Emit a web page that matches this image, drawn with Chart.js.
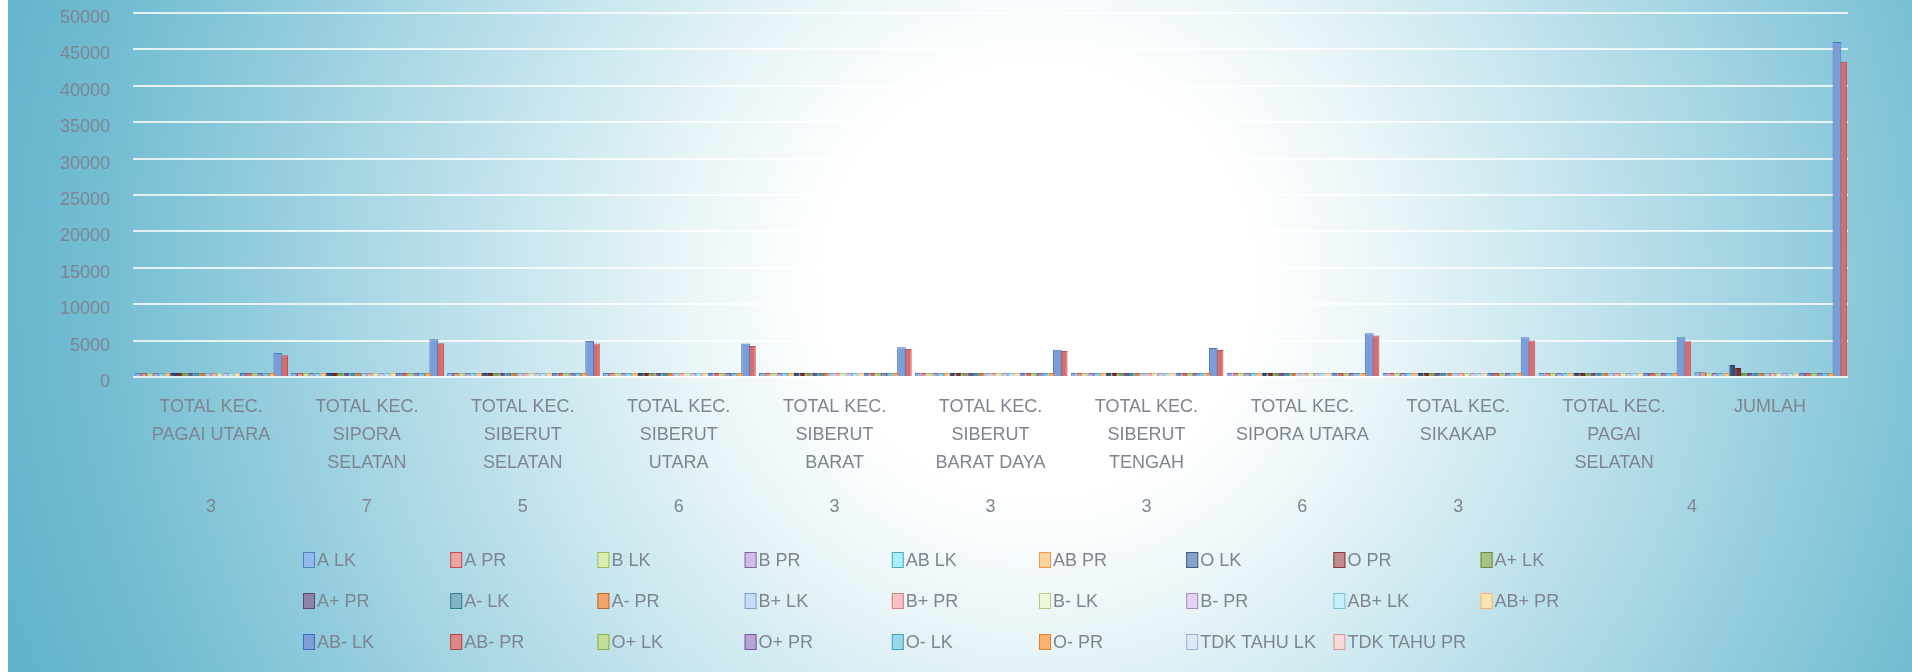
<!DOCTYPE html>
<html>
<head>
<meta charset="utf-8">
<script src="https://cdn.jsdelivr.net/npm/chart.js@4.4.1/dist/chart.umd.min.js"></script>
<style>
  html, body { margin: 0; padding: 0; background: #ffffff; overflow: hidden; }
  #wrap { position: absolute; left: 0; top: 0; width: 1912px; height: 672px; }
  #bg {
    position: absolute; left: 8px; top: 0; width: 1904px; height: 672px;
    background: radial-gradient(circle 1080px at 1030px 280px,
      #ffffff 0%, #ffffff 20%, #e9f5f8 33%, #c4e4ed 50%, #98cfdf 70%, #74bdd2 87%, #62b3cb 100%);
  }
  canvas { position: absolute; left: 0; top: 0; }
</style>
</head>
<body>
<div id="wrap">
  <div id="bg"></div>
  <canvas id="c" width="1912" height="672"></canvas>
</div>
<script>
// ---------------- DATA ----------------
const categories = [
  ['TOTAL KEC.', 'PAGAI UTARA'],
  ['TOTAL KEC.', 'SIPORA', 'SELATAN'],
  ['TOTAL KEC.', 'SIBERUT', 'SELATAN'],
  ['TOTAL KEC.', 'SIBERUT', 'UTARA'],
  ['TOTAL KEC.', 'SIBERUT', 'BARAT'],
  ['TOTAL KEC.', 'SIBERUT', 'BARAT DAYA'],
  ['TOTAL KEC.', 'SIBERUT', 'TENGAH'],
  ['TOTAL KEC.', 'SIPORA UTARA'],
  ['TOTAL KEC.', 'SIKAKAP'],
  ['TOTAL KEC.', 'PAGAI', 'SELATAN'],
  ['JUMLAH']
];
const outerLabels = ['3', '7', '5', '6', '3', '3', '3', '6', '3', '4'];
const outerSpans  = [1, 1, 1, 1, 1, 1, 1, 1, 1, 2];

const seriesNames = [
  'A LK', 'A PR', 'B LK', 'B PR', 'AB LK', 'AB PR', 'O LK', 'O PR', 'A+ LK',
  'A+ PR', 'A- LK', 'A- PR', 'B+ LK', 'B+ PR', 'B- LK', 'B- PR', 'AB+ LK', 'AB+ PR',
  'AB- LK', 'AB- PR', 'O+ LK', 'O+ PR', 'O- LK', 'O- PR', 'TDK TAHU LK', 'TDK TAHU PR'
];

const aLK      = [55, 85, 120, 60, 45, 40, 50, 110, 85, 60, 710];
const aPR      = [50, 80, 105, 55, 40, 35, 45, 100, 75, 55, 640];
const bLK      = [45, 70, 95, 50, 35, 30, 40, 90, 70, 45, 570];
const bPR      = [40, 65, 90, 45, 30, 30, 35, 85, 65, 40, 525];
const abLK     = [30, 50, 70, 35, 25, 25, 30, 75, 60, 35, 435];
const abPR     = [30, 45, 65, 35, 25, 20, 25, 70, 55, 35, 405];
const oLK      = [75, 250, 540, 70, 50, 55, 50, 290, 175, 85, 1640];
const oPR      = [60, 190, 410, 50, 40, 45, 40, 215, 125, 60, 1235];
const aPosLK   = [10, 15, 25, 10, 5, 8, 6, 20, 14, 9, 122];
const aPosPR   = [8, 14, 22, 9, 6, 7, 5, 18, 12, 8, 109];
const aNegLK   = [2, 3, 4, 2, 1, 1, 1, 3, 2, 2, 21];
const aNegPR   = [1, 2, 3, 2, 1, 1, 1, 2, 2, 1, 16];
const bPosLK   = [9, 13, 20, 8, 6, 5, 6, 17, 12, 7, 103];
const bPosPR   = [8, 12, 18, 7, 5, 5, 5, 15, 11, 7, 93];
const bNegLK   = [1, 2, 3, 1, 1, 1, 1, 2, 2, 1, 15];
const bNegPR   = [1, 2, 2, 1, 1, 1, 1, 2, 1, 1, 13];
const abPosLK  = [4, 6, 9, 4, 3, 3, 3, 8, 6, 4, 50];
const abPosPR  = [4, 5, 8, 4, 3, 2, 3, 7, 5, 4, 45];
const abNegLK  = [1, 1, 2, 1, 1, 1, 1, 1, 1, 1, 11];
const abNegPR  = [1, 1, 1, 1, 1, 1, 1, 1, 1, 1, 10];
const oPosLK   = [12, 30, 55, 10, 8, 9, 8, 35, 22, 12, 201];
const oPosPR   = [10, 25, 45, 9, 7, 8, 7, 30, 18, 10, 169];
const oNegLK   = [2, 3, 5, 2, 1, 1, 1, 4, 3, 2, 24];
const oNegPR   = [1, 3, 4, 1, 1, 1, 1, 3, 2, 1, 18];
const tdkLK    = [3300, 5200, 4950, 4600, 4100, 3750, 4000, 6000, 5450, 5450, 46000];
const tdkPR    = [3000, 4650, 4600, 4250, 3850, 3580, 3720, 5700, 5000, 4900, 43300];

const seriesValues = [
  aLK, aPR, bLK, bPR, abLK, abPR, oLK, oPR, aPosLK,
  aPosPR, aNegLK, aNegPR, bPosLK, bPosPR, bNegLK, bNegPR, abPosLK, abPosPR,
  abNegLK, abNegPR, oPosLK, oPosPR, oNegLK, oNegPR, tdkLK, tdkPR
];

const yMax = 50000;
const yStep = 5000;

// ---------------- STYLES ----------------
const barFill = [
  '#8fb2e0', '#e09896', '#c9de9f', '#b9a8d1', '#8fd3e6', '#fbbf8a', '#34507d', '#7a2e2c', '#86a44e',
  '#6d5a8c', '#4a97ab', '#d5823d', '#b3cbee', '#f0b3b1', '#dfeac3', '#d3c8e4', '#b6e6f2', '#fde2b4',
  '#6f93cf', '#d06f6c', '#b4cd7e', '#9f89bf', '#7fc6da', '#f9ad6d', '#7b9dd8', '#d86e6c'
];
const barBorder = [
  '#4f81bd', '#c0504d', '#9bbb59', '#8064a2', '#4bacc6', '#f79646', '#243b5e', '#5e2220', '#71893f',
  '#5c4776', '#357d91', '#b66d31', '#7ba0cd', '#d2807e', '#b4cc82', '#a18fbb', '#79c0d4', '#f9b074',
  '#3a6eb6', '#b84542', '#8cb04c', '#7359a0', '#3fa0bb', '#e67f25', '#4a78c0', '#c0504d'
];
const legendFill = [
  '#95b9ea', '#eba5a4', '#dcedb2', '#d2bde9', '#a9eef9', '#fdd49c', '#8aa0c6', '#c08a89', '#a7c284',
  '#8f83a8', '#7fb6c6', '#efa56a', '#c8dcf6', '#f7c3c2', '#eef7d8', '#e2d4f2', '#c6f3fb', '#fae7b0',
  '#7f9ed6', '#d98a88', '#c3dd98', '#b7a5d2', '#96d8e8', '#fbb26f', '#dde9f7', '#f5d8d7'
];
const legendBorder = [
  '#4f81bd', '#c0504d', '#9bbb59', '#8064a2', '#4bacc6', '#f79646', '#385d8a', '#8c3836', '#71893f',
  '#5c4776', '#357d91', '#b66d31', '#7ba0cd', '#d2807e', '#b4cc82', '#a18fbb', '#79c0d4', '#f9b074',
  '#3a6eb6', '#b84542', '#8cb04c', '#7359a0', '#3fa0bb', '#e67f25', '#95b3d7', '#d99694'
];
const barWidthFactor = [
  1, 1, 1, 1, 1, 1, 1, 1, 1,
  1, 1, 1, 1, 1, 1, 1, 1, 1,
  1, 1, 1, 1, 1, 1, 1.5, 1.5
];
const textColor = '#7f8590';
const fontFamily = '"Liberation Sans", Arial, sans-serif';

// centers of the outer category groups, from their spans
const outerCenters = [];
(function () {
  let start = 0;
  outerSpans.forEach(s => { outerCenters.push(start + (s - 1) / 2); start += s; });
})();

const datasets = seriesNames.map((name, i) => ({
  label: name,
  data: seriesValues[i],
  backgroundColor: barFill[i],
  borderColor: barBorder[i],
  borderWidth: 1,
  borderSkipped: 'bottom',
  categoryPercentage: 0.97,
  barPercentage: barWidthFactor[i],
  minBarLength: 4,
  xAxisID: 'x',
  yAxisID: 'y'
}));

const gridLegend = {
  id: 'gridLegend',
  afterDraw(chart) {
    const ctx = chart.ctx;
    ctx.save();
    ctx.font = '18px ' + fontFamily;
    ctx.textBaseline = 'middle';
    ctx.textAlign = 'left';
    chart.data.datasets.forEach((d, i) => {
      const col = i % 9;
      const row = Math.floor(i / 9);
      const x = 303 + col * 147.2;
      const y = 560 + row * 41;
      ctx.fillStyle = legendFill[i];
      ctx.fillRect(x, y - 8, 12, 16);
      ctx.strokeStyle = legendBorder[i];
      ctx.lineWidth = 1;
      ctx.strokeRect(x + 0.5, y - 7.5, 11, 15);
      ctx.fillStyle = textColor;
      ctx.fillText(d.label, x + 14, y + 1);
    });
    ctx.restore();
  }
};

new Chart(document.getElementById('c'), {
  type: 'bar',
  data: { labels: categories, datasets: datasets },
  options: {
    responsive: false,
    animation: false,
    devicePixelRatio: 1,
    layout: { padding: { left: 60, right: 64, top: 13, bottom: 151 } },
    plugins: { legend: { display: false }, tooltip: { enabled: false } },
    scales: {
      x: {
        type: 'category',
        position: 'bottom',
        weight: 0,
        grid: { display: false, drawTicks: false },
        border: { display: false },
        afterFit: (s) => { s.height = 100; },
        ticks: {
          color: textColor,
          font: { family: fontFamily, size: 18, lineHeight: 28 / 18 },
          padding: 16,
          maxRotation: 0,
          minRotation: 0,
          autoSkip: false
        }
      },
      x2: {
        type: 'linear',
        position: 'bottom',
        weight: 1,
        offset: false,
        min: -0.5,
        max: categories.length - 0.5,
        grid: { display: false, drawTicks: false, offset: false },
        border: { display: false },
        afterBuildTicks: (axis) => { axis.ticks = outerCenters.map(v => ({ value: v })); },
        afterFit: (s) => { s.height = 44; },
        ticks: {
          color: textColor,
          font: { family: fontFamily, size: 18, lineHeight: 28 / 18 },
          padding: 16,
          maxRotation: 0,
          autoSkip: false,
          callback: (value, index) => outerLabels[index]
        }
      },
      y: {
        min: 0,
        max: yMax,
        grid: { color: 'rgba(255,255,255,0.78)', lineWidth: 2, drawTicks: false },
        border: { display: false },
        afterFit: (s) => { s.width = 73; s.paddingTop = 0; s.paddingBottom = 0; },
        ticks: {
          stepSize: yStep,
          color: textColor,
          font: { family: fontFamily, size: 18 },
          padding: 23,
          labelOffset: 5,
          callback: (v) => String(v)
        }
      }
    }
  },
  plugins: [gridLegend]
});
</script>
</body>
</html>
